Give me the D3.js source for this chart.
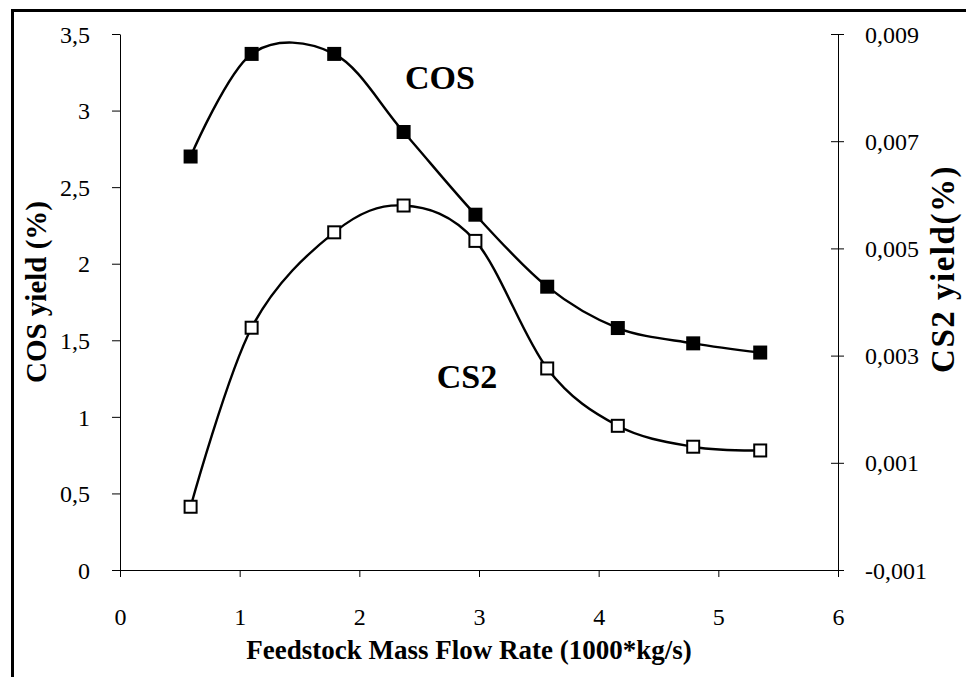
<!DOCTYPE html>
<html>
<head>
<meta charset="utf-8">
<script src="https://cdn.jsdelivr.net/npm/d3@7"></script>
<style>
  body { margin: 0; background: #fff; }
  svg text { font-family: "Liberation Serif", "Times New Roman", serif; fill: #000; }
</style>
</head>
<body>
<div class="d3space"></div>
<script>
// feedstock mass flow rate (1000*kg/s)
var flowRate = [0.59, 1.1, 1.79, 2.37, 2.97, 3.57, 4.16, 4.79, 5.35];
// COS yield (%) - left axis
var cosYield = [2.70, 3.37, 3.37, 2.86, 2.32, 1.85, 1.58, 1.48, 1.42];
// CS2 yield (%) - right axis
var cs2Yield = [0.00018, 0.00352, 0.0053, 0.0058, 0.00514, 0.00276, 0.00169, 0.0013, 0.00123];

var xTicks = [0, 1, 2, 3, 4, 5, 6],
    leftTicks = [0, 0.5, 1, 1.5, 2, 2.5, 3, 3.5],
    rightTicks = [-0.001, 0.001, 0.003, 0.005, 0.007, 0.009];

var Chart = {
    init: function() {
        this.draw();
    },
    draw: function() {
        var width = 966,
            height = 677,
            pLeft = 120,
            pRight = 838,
            pTop = 34,
            pBottom = 570;

        var svg = d3.select("div.d3space").append("svg")
            .attr("width", width)
            .attr("height", height);

        var x = d3.scaleLinear().domain([0, 6]).range([pLeft, pRight]);
        var yL = d3.scaleLinear().domain([0, 3.5]).range([pBottom, pTop]);
        var yR = d3.scaleLinear().domain([-0.001, 0.009]).range([pBottom, pTop]);

        function comma(s) { return s.replace(".", ","); }

        // frame (only top and left edges show in the picture)
        svg.append("line").attr("x1", 11).attr("y1", 10.5).attr("x2", width).attr("y2", 10.5)
            .attr("stroke", "#000").attr("stroke-width", 3);
        svg.append("line").attr("x1", 12.5).attr("y1", 9).attr("x2", 12.5).attr("y2", height)
            .attr("stroke", "#000").attr("stroke-width", 3);

        // axes
        var gx = svg.append("g")
            .attr("transform", "translate(0," + pBottom + ")")
            .call(d3.axisBottom(x).tickValues(xTicks).tickSize(7).tickSizeOuter(0)
                .tickFormat(function(d) { return d; }));
        gx.selectAll("text").attr("y", 55).attr("dy", 0);

        var gl = svg.append("g")
            .attr("transform", "translate(" + pLeft + ",0)")
            .call(d3.axisLeft(yL).tickValues(leftTicks).tickSize(8).tickPadding(22).tickSizeOuter(0)
                .tickFormat(function(d) { return comma(String(d)); }));
        gl.selectAll("text").attr("dy", "0.34em");

        var gr = svg.append("g")
            .attr("transform", "translate(" + pRight + ",0)")
            .call(d3.axisRight(yR).tickValues(rightTicks).tickSize(6).tickPadding(21).tickSizeOuter(0)
                .tickFormat(function(d) { return comma(d.toFixed(3)); }));
        gr.selectAll(".tick line").attr("x1", -7);
        gr.selectAll("text").attr("dy", "0.34em");

        svg.selectAll("g").attr("font-size", null).attr("font-family", null);
        svg.selectAll(".domain, .tick line").attr("stroke", "#000").attr("stroke-width", 1);
        svg.selectAll(".tick text").attr("fill", "#000").style("font-size", "24px");

        // axis titles
        svg.append("text")
            .attr("x", 469).attr("y", 659)
            .attr("text-anchor", "middle")
            .style("font-size", "27px").style("font-weight", "bold")
            .text("Feedstock Mass Flow Rate (1000*kg/s)");

        svg.append("text")
            .attr("transform", "translate(46,292)rotate(-90)")
            .attr("text-anchor", "middle")
            .style("font-size", "29px").style("font-weight", "bold")
            .text("COS yield (%)");

        svg.append("text")
            .attr("transform", "translate(954,269)rotate(-90)")
            .attr("text-anchor", "middle")
            .style("font-size", "33px").style("font-weight", "bold")
            .style("letter-spacing", "1.5px")
            .text("CS2 yield(%)");

        // series
        var cosData = flowRate.map(function(d, i) { return [d, cosYield[i]]; });
        var cs2Data = flowRate.map(function(d, i) { return [d, cs2Yield[i]]; });

        var smooth = d3.curveCardinal.tension(0);

        svg.append("path")
            .datum(cosData)
            .attr("fill", "none").attr("stroke", "#000").attr("stroke-width", 2.4)
            .attr("d", d3.line().curve(smooth)
                .x(function(d) { return x(d[0]); })
                .y(function(d) { return yL(d[1]); }));

        svg.append("path")
            .datum(cs2Data)
            .attr("fill", "none").attr("stroke", "#000").attr("stroke-width", 2.4)
            .attr("d", d3.line().curve(smooth)
                .x(function(d) { return x(d[0]); })
                .y(function(d) { return yR(d[1]); }));

        var s = 14;
        svg.append("g").selectAll("rect")
            .data(cosData)
          .enter().append("rect")
            .attr("x", function(d) { return x(d[0]) - s / 2; })
            .attr("y", function(d) { return yL(d[1]) - s / 2; })
            .attr("width", s).attr("height", s)
            .attr("fill", "#000");

        svg.append("g").selectAll("rect")
            .data(cs2Data)
          .enter().append("rect")
            .attr("x", function(d) { return x(d[0]) - (s - 2) / 2; })
            .attr("y", function(d) { return yR(d[1]) - (s - 2) / 2; })
            .attr("width", s - 2).attr("height", s - 2)
            .attr("fill", "#fff").attr("stroke", "#000").attr("stroke-width", 2);

        // series labels
        svg.append("text")
            .attr("x", 440).attr("y", 89)
            .attr("text-anchor", "middle")
            .style("font-size", "34px").style("font-weight", "bold")
            .text("COS");

        svg.append("text")
            .attr("x", 467).attr("y", 388)
            .attr("text-anchor", "middle")
            .style("font-size", "34px").style("font-weight", "bold")
            .text("CS2");
    }
};

Chart.init();
</script>
</body>
</html>
